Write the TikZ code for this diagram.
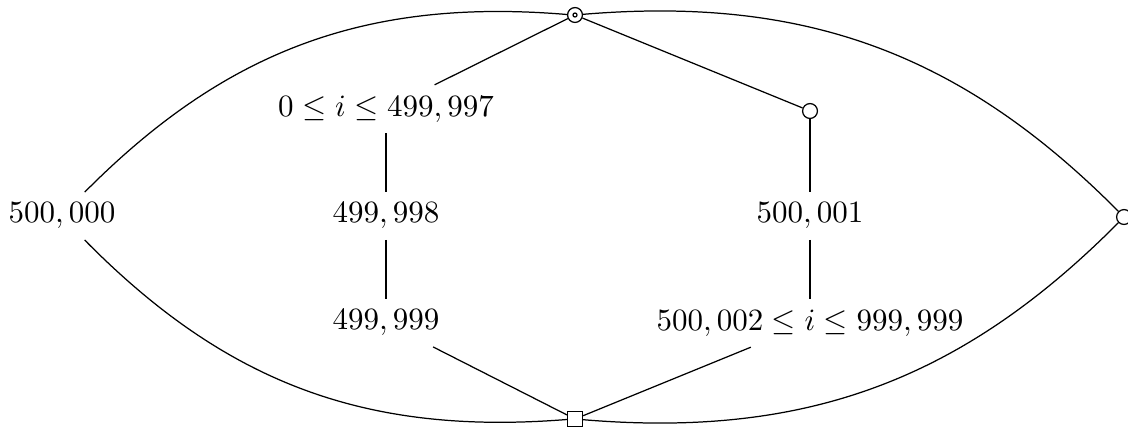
\documentclass[tikz,border=0pt]{standalone}
\usetikzlibrary{shapes.geometric}
\begin{document}
\begin{tikzpicture}[x=0.3226pt,y=-0.3226pt,
  vcirc/.style={circle,draw,inner sep=0pt,minimum size=4.8pt,fill=white},
  vsq/.style={rectangle,draw,inner sep=0pt,minimum size=4.8pt,fill=white},
  lab/.style={inner sep=3.33pt},
  every path/.style={line width=0.4pt}]
\useasboundingbox (0,0) rectangle (1128,428);
\node[vcirc] (top) at (575,15) {};
\node[circle,draw,inner sep=0pt,minimum size=1.3pt] (topdot) at (top.center) {};
\node[vcirc] (c1) at (810,111) {};
\node[vcirc] (c2) at (1124,217) {};
\node[vsq] (sq) at (575,419) {};
\node[lab] (a) at (386,109) {$0\le i\le 499,997$};
\node[lab] (b) at (386,216) {$499,998$};
\node[lab] (c) at (386,323) {$499,999$};
\node[lab] (d) at (62,216) {$500,000$};
\node[lab] (e) at (810,216) {$500,001$};
\node[lab] (f) at (810,323) {$500,002\le i\le 999,999$};
\draw (top) -- (a);
\draw (a) -- (b);
\draw (b) -- (c);
\draw (c) -- (sq);
\draw (top) -- (c1);
\draw (c1) -- (e);
\draw (e) -- (f);
\draw (f) -- (sq);
\draw (d) to[bend left=25] (top);
\draw (d) to[bend right=25] (sq);
\draw (top) to[bend left=25] (c2);
\draw (c2) to[bend left=25] (sq);
\end{tikzpicture}
\end{document}
